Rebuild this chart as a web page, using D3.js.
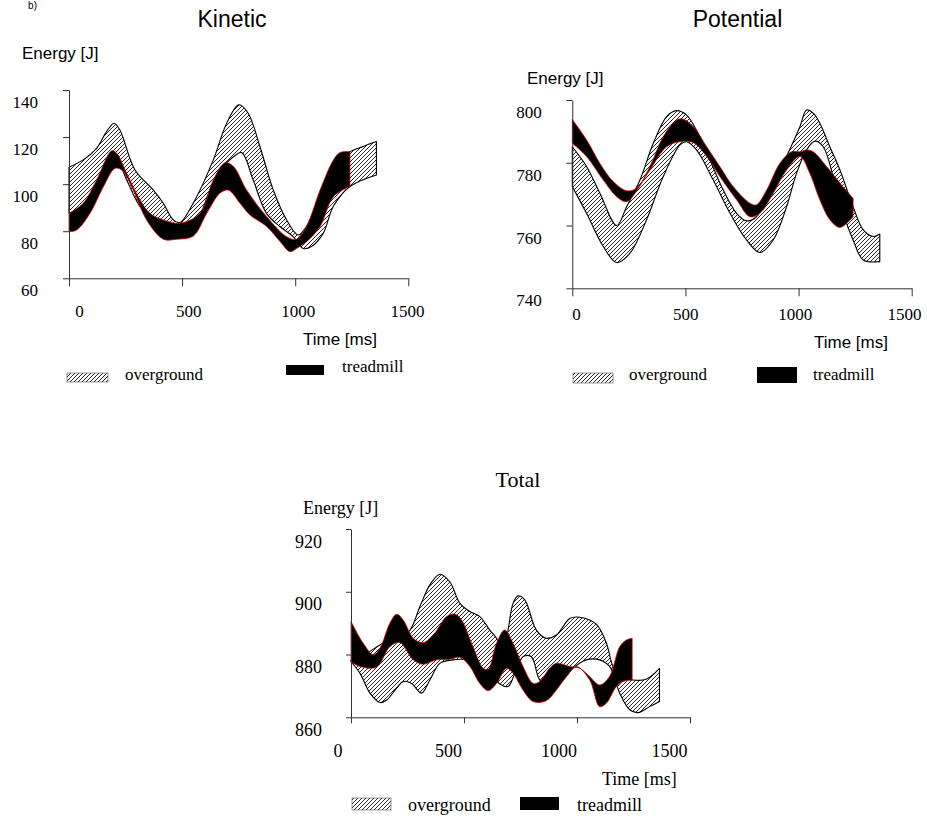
<!DOCTYPE html>
<style>
    body { margin: 0; background: #fff; }
    .sans { font-family: "Liberation Sans", Arial, sans-serif; }
    .serif { font-family: "Liberation Serif", "Times New Roman", serif; }
</style>
<svg width="927" height="816"></svg>
<script src="https://cdnjs.cloudflare.com/ajax/libs/d3/7.8.5/d3.min.js"></script>
<script>

    // ---- data: [time ms, energy J] ----
    var xTicks = [0, 500, 1000, 1500];

    var kinTicks = [60, 80, 100, 120, 140];
    var kinOverUp = [[0,107.2],[63,110.3],[122,115.2],[166,122.3],[199,125.9],[225,123],[292,106],[373,97.5],[417,91.9],[461,84.8],[490,83.7],[549,91.9],[638,110.3],[697,125.9],[751,133.7],[792,130.1],[844,116],[903,97.5],[962,84.8],[1013,78.4],[1050,82],[1124,99],[1197,110.3],[1242,113.8],[1300,116],[1359,118.1]];
    var kinOverLo = [[0,87.6],[63,90.5],[122,99],[181,108],[211,110.3],[255,101.8],[314,90.5],[387,83.4],[490,82],[564,84.8],[623,97.5],[674,106.7],[719,111],[763,113.4],[814,101.8],[873,87.6],[932,82],[991,77.7],[1035,72.7],[1072,73.5],[1124,79.1],[1168,90.5],[1242,99],[1359,103.9]];
    var kinTreadUp = [[0,87.6],[63,91.9],[122,101.8],[189,114.2],[211,113.1],[255,104.6],[314,93.3],[358,87.6],[417,84.8],[490,83.4],[579,87.6],[638,101.8],[690,109.1],[727,107.5],[785,97.5],[874,86.2],[962,77.7],[1006,76.6],[1050,82],[1110,97.5],[1169,110.3],[1198,113.4],[1242,113.8]];
    var kinTreadLo = [[0,79.8],[34,80.5],[93,87.6],[152,98.9],[203,106.7],[233,106],[284,97.5],[343,84.8],[417,76.6],[476,76.6],[550,78],[609,87.6],[667,96.1],[704,97.5],[756,91.9],[800,86.9],[874,82],[933,75.6],[977,71.3],[1006,72.7],[1051,75.6],[1110,82],[1169,94.7],[1242,99]];

    var potTicks = [740, 760, 780, 800];
    var potOverUp = [[0,785.1],[63,778.8],[122,770.3],[196,760],[240,766],[299,774.5],[358,786.2],[417,794.7],[461,796.6],[505,795.2],[549,790.4],[608,780.9],[667,771.3],[726,763.9],[770,761.5],[814,762.8],[859,769.2],[932,779.8],[1006,791.5],[1035,796.8],[1065,795.8],[1094,792.6],[1138,785.1],[1183,777.7],[1241,766],[1286,758.6],[1330,756.5],[1359,757.3]];
    var potOverLo = [[0,772.4],[63,763.9],[137,753.3],[196,748.2],[255,751.2],[328,761.8],[402,775.6],[476,785.7],[505,786.7],[549,784.1],[623,774.5],[697,763.9],[770,755.4],[829,751.4],[888,755.4],[947,766],[991,776.6],[1035,784.1],[1072,786.9],[1109,785.1],[1153,775.6],[1197,763.9],[1241,755.4],[1286,749],[1359,748.5]];
    var potTreadUp = [[0,793.8],[63,787.3],[122,779.8],[181,774],[240,771.1],[284,771.9],[343,778.8],[402,788.3],[461,793.6],[490,793.9],[535,791.5],[594,785.1],[652,778.8],[711,772.4],[785,767.1],[814,766.6],[859,771.3],[917,779.8],[969,783.5],[1006,783.5],[1035,784.1],[1065,783.5],[1124,778.8],[1183,773.5],[1241,768.7]];
    var potTreadLo = [[0,786.2],[63,782],[137,774.5],[196,769.2],[240,767.6],[277,770.3],[343,777.7],[417,785.1],[476,786.7],[535,786.4],[594,782],[652,775.6],[726,768.2],[785,762.8],[829,763.9],[888,770.3],[947,777.7],[1006,782],[1050,776.6],[1094,768.2],[1139,761.8],[1183,759.4],[1241,762.8]];

    var totTicks = [860, 880, 900, 920];
    var totOverUp = [[0,878.3],[69,880.4],[143,883.6],[202,884.6],[261,887.8],[305,895.3],[349,902.2],[393,905.6],[437,903.2],[482,896.3],[526,893.7],[570,892.1],[614,887.8],[644,885.2],[673,880.4],[695,887.8],[717,896.3],[739,898.7],[769,897.4],[820,887.8],[864,885.2],[909,886.2],[968,891.5],[1012,891.9],[1085,889.7],[1130,883.6],[1159,876.2],[1189,873],[1247,871.9],[1306,872.1],[1365,875.6]];
    var totOverLo = [[0,877.7],[40,874],[84,867.7],[128,864.7],[158,865.5],[202,869.3],[231,871.4],[268,870.8],[312,867.7],[349,871.9],[393,877.2],[452,878.3],[511,878.3],[570,876.2],[629,873],[658,870.6],[695,869.8],[725,874],[761,879.3],[798,879.3],[835,871.9],[879,869.8],[938,871.9],[982,875.6],[1041,878.3],[1100,878.3],[1144,876.2],[1189,867.7],[1233,862.4],[1270,861.5],[1321,863.4],[1365,865]];
    var totTreadUp = [[0,890.5],[54,883.6],[99,879.9],[128,882],[172,890],[202,892.8],[231,891],[275,885.2],[320,883.8],[364,886.2],[423,892.1],[459,892.9],[489,891],[540,882.5],[585,875.6],[607,875.3],[644,883.6],[680,887.8],[717,883.6],[761,876.2],[806,870.8],[835,871.4],[879,875.6],[909,877.2],[968,876.2],[1012,875.6],[1056,873],[1100,870.3],[1144,873],[1189,882.5],[1218,884.6],[1244,885.2]];
    var totTreadLo = [[0,877.7],[40,876.2],[113,876],[172,882.5],[216,883.8],[275,878.3],[320,876.9],[378,878.3],[437,878.5],[482,879.1],[526,876.2],[570,870.8],[607,868.5],[644,870.8],[688,875.6],[717,874],[761,868.7],[806,865],[864,865.3],[909,868.7],[953,873],[997,876.2],[1056,871.9],[1100,863.4],[1130,864.5],[1174,869.8],[1203,871.4],[1244,871.9]];

    var svg = d3.select("svg");

    // hatch for the overground bands
    var pat = svg.append("defs").append("pattern")
        .attr("id", "hatch")
        .attr("patternUnits", "userSpaceOnUse")
        .attr("width", 4).attr("height", 4);
    pat.append("rect").attr("width", 4).attr("height", 4).attr("fill", "#fff");
    pat.append("path")
        .attr("d", "M-1,1 l2,-2 M0,4 l4,-4 M3,5 l2,-2")
        .attr("stroke", "#111")
        .attr("stroke-width", 0.9);

    // panel letter, mostly outside the picture in the original
    svg.append("text").attr("class", "sans")
        .attr("x", 37).attr("y", 9)
        .attr("text-anchor", "end")
        .attr("font-size", 10)
        .text("b)");

    function band(upper, lower, x, y) {
        var line = d3.line()
            .x(function(d) { return x(d[0]); })
            .y(function(d) { return y(d[1]); })
            .curve(d3.curveCatmullRom);
        var lo = lower.slice().reverse();
        return line(upper) + "L" + line(lo).slice(1) + "Z";
    }

    function panel(p) {
        var x = d3.scaleLinear().domain([0, 1500]).range(p.xr);
        var y = d3.scaleLinear().domain(p.yd).range(p.yr);
        var lx = d3.scaleLinear().domain([0, 1500]).range(p.lxr);
        var g = svg.append("g");

        // overground band (hatched)
        g.append("path")
            .attr("d", band(p.overUp, p.overLo, x, y))
            .attr("fill", "url(#hatch)")
            .attr("stroke", "#000")
            .attr("stroke-width", 1.1)
            .attr("stroke-linejoin", "round");

        // treadmill band (black)
        g.append("path")
            .attr("d", band(p.treadUp, p.treadLo, x, y))
            .attr("fill", "#000")
            .attr("stroke", "#d00")
            .attr("stroke-width", 0.8)
            .attr("stroke-linejoin", "round");

        var ya = g.append("g")
            .attr("transform", "translate(" + p.xr[0] + ",0)")
            .attr("color", "#333")
            .call(d3.axisLeft(y).tickValues(p.yTicks).tickSize(p.ytl).tickSizeOuter(0).tickFormat(d3.format("d")));
        ya.selectAll(".tick text")
            .attr("class", "serif")
            .attr("font-size", p.tickFs)
            .attr("fill", "#000")
            .attr("x", p.ylx - p.xr[0])
            .attr("dy", null)
            .attr("y", p.yly);

        var xa = g.append("g")
            .attr("transform", "translate(0," + p.yr[0] + ")")
            .attr("color", "#333")
            .call(d3.axisBottom(x).tickValues(xTicks).tickSize(p.xtl).tickSizeOuter(0).tickFormat(d3.format("d")));
        xa.selectAll(".tick text")
            .attr("class", "serif")
            .attr("font-size", p.tickFs)
            .attr("fill", "#000")
            .attr("x", function(d) { return lx(d) - x(d); })
            .attr("dy", null)
            .attr("y", p.xly - p.yr[0]);
        g.selectAll(".domain").attr("stroke-width", 1);

        g.append("text").attr("class", p.titleFont)
            .attr("x", p.title[1]).attr("y", p.title[2])
            .attr("text-anchor", "middle")
            .attr("font-size", p.title[3])
            .text(p.title[0]);
        g.append("text").attr("class", p.labFont)
            .attr("x", p.energy[0]).attr("y", p.energy[1])
            .attr("font-size", p.labFs)
            .text("Energy [J]");
        g.append("text").attr("class", p.labFont)
            .attr("x", p.time[0]).attr("y", p.time[1])
            .attr("font-size", p.labFs)
            .text("Time [ms]");

        // legend
        var L = p.legend;
        g.append("rect")
            .attr("x", L.hatch[0]).attr("y", L.hatch[1])
            .attr("width", L.hatch[2]).attr("height", L.hatch[3])
            .attr("fill", "url(#hatch)")
            .attr("stroke", "#555").attr("stroke-width", 0.6);
        g.append("text").attr("class", "serif")
            .attr("x", L.overText[0]).attr("y", L.overText[1])
            .attr("font-size", L.fs)
            .text("overground");
        g.append("rect")
            .attr("x", L.black[0]).attr("y", L.black[1])
            .attr("width", L.black[2]).attr("height", L.black[3])
            .attr("fill", "#000");
        g.append("text").attr("class", "serif")
            .attr("x", L.treadText[0]).attr("y", L.treadText[1])
            .attr("font-size", L.fs)
            .text("treadmill");
    }

    panel({
        xr: [69, 408.3], yd: [60, 140], yr: [278.3, 90], lxr: [79, 407],
        yTicks: kinTicks, ytl: 6, xtl: 8, tickFs: 17,
        ylx: 38, yly: 17.5, xly: 317,
        overUp: kinOverUp, overLo: kinOverLo, treadUp: kinTreadUp, treadLo: kinTreadLo,
        title: ["Kinetic", 232, 27, 23], titleFont: "sans",
        labFont: "sans", labFs: 17, energy: [22, 59], time: [303, 345],
        legend: { fs: 17, hatch: [67, 373, 41, 9], overText: [125, 380],
                  black: [286, 365, 38, 10], treadText: [342, 372] }
    });

    panel({
        xr: [572.3, 911.7], yd: [740, 800], yr: [288.3, 100], lxr: [576, 904],
        yTicks: potTicks, ytl: 6, xtl: 8, tickFs: 17,
        ylx: 541.7, yly: 17.5, xly: 320,
        overUp: potOverUp, overLo: potOverLo, treadUp: potTreadUp, treadLo: potTreadLo,
        title: ["Potential", 737.5, 27, 23], titleFont: "sans",
        labFont: "sans", labFs: 17, energy: [527, 84], time: [814, 348],
        legend: { fs: 17, hatch: [573, 373, 40, 10], overText: [629, 380],
                  black: [757, 367, 40, 16], treadText: [813, 380] }
    });

    panel({
        xr: [351, 690], yd: [860, 920], yr: [717.3, 529], lxr: [337.5, 669],
        yTicks: totTicks, ytl: 5, xtl: 6, tickFs: 18,
        ylx: 322, yly: 18, xly: 757,
        overUp: totOverUp, overLo: totOverLo, treadUp: totTreadUp, treadLo: totTreadLo,
        title: ["Total", 518, 487, 22], titleFont: "serif",
        labFont: "serif", labFs: 18, energy: [303, 514], time: [602, 785],
        legend: { fs: 18, hatch: [352, 798, 39, 12], overText: [408, 811],
                  black: [520, 797, 39, 13], treadText: [577, 811] }
    });

</script>
